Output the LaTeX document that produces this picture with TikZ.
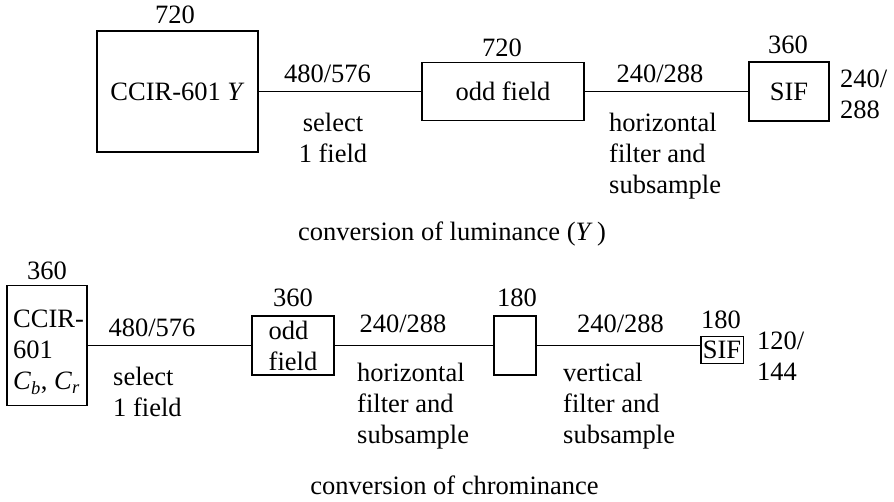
\documentclass[tikz,border=0pt]{standalone}
\usepackage{fontspec}
\setmainfont{Liberation Serif}
\begin{document}
\begin{tikzpicture}[x=1pt, y=-1pt,
  font=\fontsize{26.5}{31}\selectfont,
  box/.style={draw, line width=1.3pt, inner sep=0pt},
  lbl/.style={inner sep=0pt},
  wire/.style={line width=1.3pt}]
\useasboundingbox (0,0) rectangle (894,502);

% ---------- luminance path ----------
\node[box, minimum width=161pt, minimum height=121pt] (yin) at (177.5,91.5) {CCIR-601 \textit{Y}};
\node[box, minimum width=162pt, minimum height=58pt] (yodd) at (503,91.5) {odd field};
\node[box, minimum width=80pt, minimum height=59pt] (ysif) at (789,91.5) {SIF};
\draw[wire] (yin) -- (yodd);
\draw[wire] (yodd) -- (ysif);

\node[lbl, anchor=base] (yinw) at (175,24) {720};
\node[lbl, anchor=base] (ylines1) at (327.5,83) {480/576};
\node[lbl, anchor=north, align=center] (ystep1) at (333,113) {select\\1 field};
\node[lbl, anchor=base] (yoddw) at (502,57) {720};
\node[lbl, anchor=base] (ylines2) at (660,83) {240/288};
\node[lbl, anchor=north west, align=left] (ystep2) at (609,113) {horizontal\\filter and\\subsample};
\node[lbl, anchor=base] (ysifw) at (788,54) {360};
\node[lbl, anchor=north west, align=left] (ysifl) at (840,70) {240/\\288};

\node[lbl, anchor=base] (ycap) at (452,241) {conversion of luminance (\textit{Y}\,)};

% ---------- chrominance path ----------
\node[box, minimum width=80pt, minimum height=120pt] (cin) at (47,345.5) {};
\node[lbl, anchor=north west, align=left] (cintxt) at (13,310)
  {CCIR-\\601\\\textit{C}\textsubscript{\textit{b}}, \textit{C}\textsubscript{\textit{r}}};
\node[box, minimum width=82pt, minimum height=59pt, align=left] (codd) at (293,345.5) {odd\\field};
\node[box, minimum width=42pt, minimum height=59pt] (cmid) at (515,345.5) {};
\node[box, inner xsep=2pt, inner ysep=4.5pt] (csif) at (722,350) {SIF};
\draw[wire] (cin) -- (codd);
\draw[wire] (codd) -- (cmid);
\draw[wire] (cmid.east) -- (cmid.east -| csif.west);

\node[lbl, anchor=base] (cinw) at (47,280) {360};
\node[lbl, anchor=base] (clines1) at (152,337) {480/576};
\node[lbl, anchor=north west, align=left] (cstep1) at (113,367) {select\\1 field};
\node[lbl, anchor=base] (coddw) at (293,307) {360};
\node[lbl, anchor=base] (clines2) at (403,333) {240/288};
\node[lbl, anchor=north west, align=left] (cstep2) at (357,363) {horizontal\\filter and\\subsample};
\node[lbl, anchor=base] (cmidw) at (517,307) {180};
\node[lbl, anchor=base] (clines3) at (620.5,333) {240/288};
\node[lbl, anchor=north west, align=left] (cstep3) at (563,363) {vertical\\filter and\\subsample};
\node[lbl, anchor=base] (csifw) at (721,329) {180};
\node[lbl, anchor=north west, align=left] (csifl) at (757,332) {120/\\144};

\node[lbl, anchor=base] (ccap) at (454.5,494) {conversion of chrominance};
\end{tikzpicture}
\end{document}
